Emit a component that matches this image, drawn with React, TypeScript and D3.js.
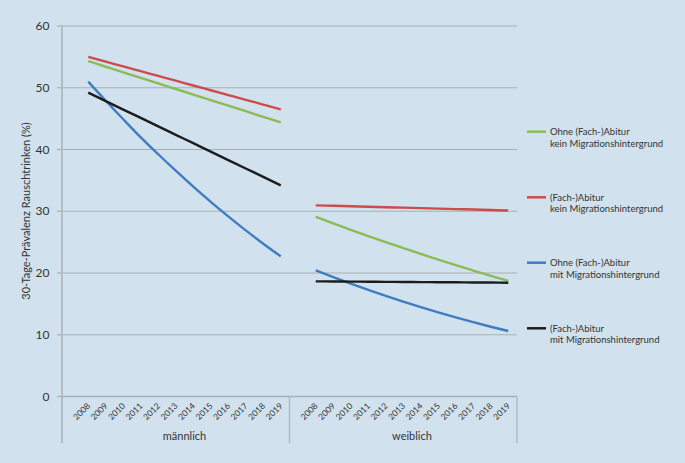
import React from "react";
import * as d3 from "d3";

const years = ["2008","2009","2010","2011","2012","2013","2014","2015","2016","2017","2018","2019"];
const groups = ["männlich", "weiblich"];
const yTicks = [0, 10, 20, 30, 40, 50, 60];

const seriesNames = [
  ["Ohne (Fach-)Abitur", "kein Migrationshintergrund"],
  ["(Fach-)Abitur", "kein Migrationshintergrund"],
  ["Ohne (Fach-)Abitur", "mit Migrationshintergrund"],
  ["(Fach-)Abitur", "mit Migrationshintergrund"],
];
const seriesColors = ["#8cbb55", "#cd4b4b", "#3f7dc1", "#1c1c1c"];

// männlich
const mGreen = [54.3, 53.4, 52.5, 51.6, 50.7, 49.8, 48.9, 48.0, 47.1, 46.2, 45.3, 44.4];
const mRed = [55.0, 54.23, 53.45, 52.68, 51.91, 51.14, 50.36, 49.59, 48.82, 48.05, 47.27, 46.5];
const mBlue = [51.0, 47.9, 44.9, 41.97, 39.23, 36.56, 33.98, 31.52, 29.16, 26.9, 24.75, 22.7];
const mBlack = [49.2, 47.84, 46.47, 45.11, 43.75, 42.38, 41.02, 39.65, 38.29, 36.93, 35.56, 34.2];
// weiblich
const wGreen = [29.1, 28.04, 27.0, 25.99, 25.0, 24.04, 23.09, 22.17, 21.27, 20.4, 19.54, 18.71];
const wRed = [30.95, 30.88, 30.8, 30.73, 30.65, 30.58, 30.5, 30.43, 30.35, 30.28, 30.2, 30.13];
const wBlue = [20.43, 19.34, 18.28, 17.27, 16.3, 15.37, 14.47, 13.62, 12.81, 12.03, 11.3, 10.61];
const wBlack = [18.65, 18.63, 18.61, 18.59, 18.57, 18.55, 18.53, 18.51, 18.49, 18.47, 18.45, 18.43];

const maleSeries = [mGreen, mRed, mBlue, mBlack];
const femaleSeries = [wGreen, wRed, wBlue, wBlack];

const W = 685, H = 463;
const left = 62, right = 517, top = 26, bottom = 396.5;
const FONT = "Lato, 'Open Sans', sans-serif";

export default function App() {
  const slots: string[] = [];
  groups.forEach((g) => {
    slots.push(g + "-gap");
    years.forEach((y) => slots.push(g + "-" + y));
  });
  const x = d3.scaleBand<string>().domain(slots).range([left, right]).paddingInner(0).paddingOuter(0);
  const cx = (k: string) => (x(k) as number) + x.bandwidth() / 2;
  const y = d3.scaleLinear().domain([0, 60]).range([bottom, top]);

  const line = (g: string) =>
    d3
      .line<number>()
      .x((_, i) => cx(g + "-" + years[i]))
      .y((v) => y(v))
      .curve(d3.curveMonotoneX);

  const groupEdges = groups.map((g) => {
    const start = x(g + "-gap") as number;
    return { start, end: start + x.bandwidth() * 13 };
  });

  const legendY = [131.7, 197.3, 262.7, 328.3];

  return (
    <svg width={W} height={H} style={{ position: "absolute", left: 0, top: 0, background: "#d1e2ee" }} fontFamily={FONT}>
      <rect x={0} y={0} width={W} height={H} fill="#d1e2ee" />
      {yTicks.filter((t) => t > 0).map((t) => (
        <line key={t} x1={left} x2={right} y1={y(t)} y2={y(t)} stroke="#a9aeb4" strokeWidth={1.2} />
      ))}
      {yTicks.map((t) => (
        <g key={"t" + t}>
          <line x1={left - 5} x2={left} y1={y(t)} y2={y(t)} stroke="#a9aeb4" strokeWidth={1.2} />
          <text x={49.5} y={y(t)} dy="0.35em" textAnchor="end" fontSize={12} fill="#333">
            {t}
          </text>
        </g>
      ))}
      <line x1={left} x2={left} y1={top - 1} y2={443} stroke="#b3bcc5" strokeWidth={2} />
      <line x1={left} x2={right} y1={bottom} y2={bottom} stroke="#a9aeb4" strokeWidth={1.5} />
      {groupEdges.map((e, i) => (
        <line key={"sep" + i} x1={e.end} x2={e.end} y1={bottom} y2={443} stroke="#b3bcc5" strokeWidth={1.5} />
      ))}
      {groups.map((g) =>
        years.map((yr) => (
          <text
            key={g + yr}
            transform={`translate(${cx(g + "-" + yr) + 2.5},${bottom + 10}) rotate(-45)`}
            textAnchor="end"
            fontSize={8.5}
            fill="#333"
          >
            {yr}
          </text>
        ))
      )}
      {groups.map((g) => {
        const mid = (cx(g + "-" + years[0]) + cx(g + "-" + years[years.length - 1])) / 2;
        return (
          <text key={"gl" + g} x={mid} y={440} textAnchor="middle" fontSize={11} fill="#333">
            {g}
          </text>
        );
      })}
      <text transform={`translate(29.5,211) rotate(-90)`} textAnchor="middle" fontSize={11} fill="#333">
        30-Tage-Prävalenz Rauschtrinken (%)
      </text>
      {maleSeries.map((s, i) => (
        <path key={"m" + i} d={line("männlich")(s) as string} fill="none" stroke={seriesColors[i]} strokeWidth={2.4} />
      ))}
      {femaleSeries.map((s, i) => (
        <path key={"w" + i} d={line("weiblich")(s) as string} fill="none" stroke={seriesColors[i]} strokeWidth={2.4} />
      ))}
      {seriesNames.map((n, i) => (
        <g key={"lg" + i}>
          <line x1={527} x2={546} y1={legendY[i]} y2={legendY[i]} stroke={seriesColors[i]} strokeWidth={2.5} />
          <text x={550} y={legendY[i]} dy="0.35em" fontSize={9.5} fill="#333">
            {n[0]}
          </text>
          <text x={550} y={legendY[i] + 11.5} dy="0.35em" fontSize={9.5} fill="#333">
            {n[1]}
          </text>
        </g>
      ))}
    </svg>
  );
}
